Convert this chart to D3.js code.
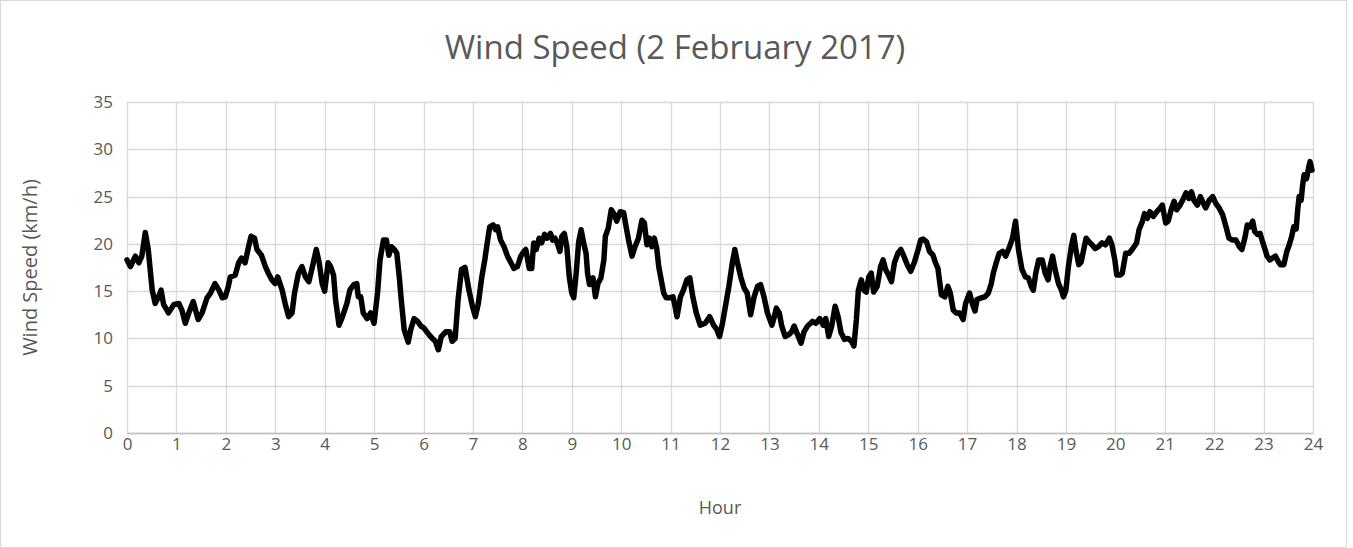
<!DOCTYPE html>
<html lang="en">
<head>
	<meta charset="UTF-8">
	<title>Wind Speed (2 February 2017)</title>
	<script src="https://d3js.org/d3.v7.min.js"></script>
	<style>
		body { margin: 0; background: #fff; }
		text { font-family: "Open Sans", "Noto Sans", sans-serif; fill: #595959; }
	</style>
</head>
<body>
<script type="text/javascript">
	// hour of day
	var hours = [
		0, 0.07, 0.17, 0.24, 0.30, 0.37, 0.43, 0.51, 0.57, 0.64, 0.69, 0.74, 0.84, 0.95,
		1.05, 1.11, 1.18, 1.25, 1.34, 1.44, 1.52, 1.62, 1.69, 1.78, 1.86, 1.93, 1.99,
		2.05, 2.09, 2.19, 2.26, 2.32, 2.39, 2.46, 2.51, 2.58, 2.63, 2.72, 2.80, 2.86, 2.93,
		3.00, 3.05, 3.14, 3.20, 3.27, 3.34, 3.39, 3.47, 3.54, 3.61, 3.68, 3.74, 3.83, 3.89, 3.95,
		4.00, 4.07, 4.12, 4.18, 4.22, 4.29, 4.36, 4.45, 4.51, 4.59, 4.65, 4.68, 4.73, 4.78, 4.86, 4.93,
		5.00, 5.07, 5.12, 5.19, 5.25, 5.30, 5.35, 5.41, 5.46, 5.51, 5.55, 5.61, 5.69, 5.74, 5.81, 5.88, 5.95,
		6.01, 6.11, 6.18, 6.24, 6.30, 6.36, 6.45, 6.53, 6.58, 6.64, 6.70, 6.77, 6.84, 6.92, 6.99,
		7.05, 7.11, 7.18, 7.24, 7.29, 7.34, 7.41, 7.46, 7.50, 7.56, 7.63, 7.70, 7.76, 7.83, 7.90, 7.97,
		8.03, 8.07, 8.14, 8.19, 8.23, 8.28, 8.34, 8.39, 8.45, 8.50, 8.57, 8.61, 8.66, 8.72, 8.76, 8.80, 8.85, 8.90, 8.95,
		9.00, 9.04, 9.09, 9.14, 9.19, 9.24, 9.29, 9.32, 9.36, 9.43, 9.48, 9.53, 9.59, 9.65, 9.68, 9.74, 9.80, 9.86, 9.91, 9.98,
		10.05, 10.10, 10.15, 10.22, 10.28, 10.35, 10.42, 10.47, 10.52, 10.57, 10.62, 10.67, 10.72, 10.76, 10.80, 10.86, 10.91, 10.98,
		11.05, 11.09, 11.13, 11.20, 11.26, 11.33, 11.39, 11.45, 11.52, 11.60, 11.70, 11.79, 11.87, 11.94, 11.99,
		12.05, 12.11, 12.18, 12.25, 12.30, 12.35, 12.42, 12.49, 12.55, 12.62, 12.69, 12.76, 12.82, 12.89, 12.96,
		13.05, 13.09, 13.14, 13.20, 13.25, 13.32, 13.39, 13.45, 13.50, 13.57, 13.64, 13.70, 13.77, 13.87, 13.94,
		14.02, 14.09, 14.14, 14.20, 14.26, 14.33, 14.39, 14.45, 14.52, 14.59, 14.66, 14.71, 14.76, 14.80, 14.86, 14.91, 14.96,
		15.01, 15.06, 15.11, 15.18, 15.25, 15.30, 15.35, 15.41, 15.47, 15.53, 15.60, 15.66, 15.72, 15.79, 15.86, 15.93,
		16.01, 16.06, 16.11, 16.18, 16.24, 16.31, 16.36, 16.41, 16.45, 16.48, 16.55, 16.61, 16.66, 16.72, 16.78, 16.85, 16.92, 16.97,
		17.05, 17.11, 17.16, 17.20, 17.29, 17.36, 17.43, 17.49, 17.53, 17.59, 17.65, 17.72, 17.78, 17.86, 17.92, 17.98,
		18.04, 18.11, 18.18, 18.24, 18.30, 18.34, 18.39, 18.45, 18.52, 18.58, 18.64, 18.68, 18.73, 18.78, 18.85, 18.91, 18.95,
		19.00, 19.05, 19.11, 19.16, 19.20, 19.26, 19.31, 19.36, 19.41, 19.47, 19.53, 19.59, 19.66, 19.73, 19.80, 19.88, 19.93, 19.99,
		20.03, 20.10, 20.14, 20.21, 20.28, 20.34, 20.43, 20.48, 20.55, 20.59, 20.65, 20.70, 20.77, 20.84, 20.91, 20.95,
		21.02, 21.07, 21.14, 21.19, 21.24, 21.31, 21.38, 21.43, 21.49, 21.54, 21.59, 21.66, 21.72, 21.78, 21.83, 21.90, 21.97,
		22.03, 22.10, 22.17, 22.24, 22.30, 22.37, 22.44, 22.51, 22.56, 22.62, 22.67, 22.72, 22.78, 22.82, 22.88, 22.93, 22.98,
		23.03, 23.07, 23.13, 23.18, 23.24, 23.30, 23.34, 23.41, 23.47, 23.52, 23.57, 23.61, 23.66, 23.69, 23.72, 23.76, 23.79,
		23.82, 23.87, 23.91, 23.94, 23.98
	];

	// wind speed in km/h, one per hour entry above
	var speeds = [
		18.3, 17.6, 18.7, 18.0, 18.7, 21.2, 19.4, 15.1, 13.7, 14.4, 15.1, 13.6, 12.7, 13.6,
		13.7, 13.0, 11.6, 12.7, 13.9, 12.0, 12.7, 14.3, 14.8, 15.8, 15.1, 14.3, 14.4,
		15.5, 16.5, 16.7, 18.0, 18.5, 18.0, 19.7, 20.8, 20.6, 19.4, 18.8, 17.6, 16.9, 16.2,
		15.8, 16.5, 15.1, 13.7, 12.3, 12.7, 14.8, 16.9, 17.6, 16.5, 16.0, 17.3, 19.4, 18.0, 15.8,
		15.0, 18.0, 17.6, 16.7, 14.1, 11.4, 12.3, 13.7, 15.1, 15.7, 15.8, 14.4, 14.4, 12.7, 12.1, 12.7,
		11.6, 14.8, 18.3, 20.4, 20.4, 18.8, 19.7, 19.4, 19.0, 16.5, 14.1, 10.9, 9.6, 10.9, 12.1, 11.8, 11.3,
		11.1, 10.4, 10.0, 9.7, 8.8, 10.2, 10.7, 10.7, 9.7, 10.0, 14.1, 17.3, 17.5, 15.1, 13.4,
		12.3, 13.7, 16.5, 18.3, 20.1, 21.8, 22.0, 21.5, 21.8, 20.4, 19.7, 18.7, 18.1, 17.4, 17.6, 18.7,
		19.2, 19.4, 17.4, 17.4, 20.1, 19.4, 20.6, 20.1, 21.0, 20.6, 21.1, 20.4, 20.6, 19.9, 19.2, 20.8, 21.1, 19.7, 16.5,
		14.8, 14.3, 16.9, 20.2, 21.5, 20.1, 19.0, 16.9, 15.7, 16.4, 14.4, 15.8, 16.4, 18.3, 20.8, 21.7, 23.6, 23.1, 22.4, 23.4,
		23.3, 21.8, 20.4, 18.7, 19.7, 20.6, 22.5, 22.2, 19.9, 20.6, 19.7, 20.6, 19.5, 17.6, 16.5, 14.8, 14.3, 14.3,
		14.4, 13.4, 12.3, 14.4, 15.1, 16.2, 16.4, 14.4, 12.7, 11.4, 11.6, 12.3, 11.4, 10.9, 10.2,
		11.6, 13.4, 15.5, 18.0, 19.4, 18.1, 16.5, 15.3, 14.8, 12.5, 14.4, 15.5, 15.7, 14.4, 12.7,
		11.4, 12.1, 13.2, 12.7, 11.3, 10.2, 10.4, 10.7, 11.3, 10.4, 9.5, 10.7, 11.3, 11.8, 11.6,
		12.1, 11.4, 12.1, 10.2, 11.3, 13.4, 12.3, 10.6, 9.9, 10.0, 9.7, 9.2, 12.0, 15.1, 16.2, 15.1, 14.9,
		16.5, 16.9, 14.9, 15.5, 17.6, 18.3, 17.3, 16.7, 16.0, 18.0, 19.0, 19.4, 18.7, 17.8, 17.1, 18.0,
		19.4, 20.4, 20.5, 20.2, 19.2, 18.8, 18.0, 17.4, 15.8, 14.6, 14.4, 15.5, 14.8, 13.0, 12.7, 12.7, 12.0, 13.7,
		14.8, 13.6, 12.9, 14.1, 14.3, 14.4, 14.8, 15.8, 16.9, 18.0, 19.0, 19.2, 18.7, 19.7, 20.6, 22.4,
		19.4, 17.3, 16.5, 16.4, 15.5, 15.1, 16.9, 18.3, 18.3, 16.9, 16.2, 17.6, 18.7, 17.3, 15.8, 15.1, 14.4,
		15.1, 17.6, 19.7, 20.9, 19.4, 17.8, 18.1, 19.4, 20.6, 20.2, 19.9, 19.5, 19.7, 20.1, 19.9, 20.6, 19.9, 18.3,
		16.7, 16.7, 16.9, 19.0, 19.0, 19.4, 20.1, 21.5, 22.4, 23.2, 22.7, 23.4, 22.9, 23.4, 23.8, 24.1,
		22.2, 22.4, 23.8, 24.5, 23.6, 24.1, 24.8, 25.4, 24.8, 25.5, 24.6, 24.1, 25.0, 24.3, 23.8, 24.6, 25.0,
		24.3, 23.8, 23.1, 21.8, 20.6, 20.4, 20.4, 19.7, 19.4, 20.6, 22.0, 21.8, 22.4, 21.3, 21.0, 21.1, 20.2,
		19.4, 18.7, 18.3, 18.5, 18.7, 18.1, 17.8, 17.8, 19.2, 19.9, 20.8, 21.8, 21.6, 23.6, 25.0, 24.6, 26.2,
		27.3, 26.9, 28.0, 28.7, 27.8
	];

	var xTicks = d3.range(0, 25, 1);
	var yTicks = [0, 5, 10, 15, 20, 25, 30, 35];

	var W = 1353, H = 548;
	var margin = {top: 102, left: 127, bottom: 115, right: 40};
	var width = 1313 - margin.left;
	var height = 433 - margin.top;

	var data = hours.map(function (h, i) {
		return {hour: h, speed: speeds[i]};
	});

	var svg = d3.select('body')
		.append('svg')
		.attr('width', W)
		.attr('height', H);

	// outer chart border
	svg.append('rect')
		.attr('x', 0.5)
		.attr('y', 0.5)
		.attr('width', 1346)
		.attr('height', 547)
		.attr('fill', '#fff')
		.attr('stroke', '#d9d9d9');

	svg.append('text')
		.attr('x', 675)
		.attr('y', 59)
		.attr('text-anchor', 'middle')
		.style('font-size', '33px')
		.text('Wind Speed (2 February 2017)');

	var g = svg.append('g')
		.attr('transform', 'translate(' + margin.left + ',' + margin.top + ')');

	var x = d3.scaleLinear().domain([0, 24]).range([0, width]);
	var y = d3.scaleLinear().domain([0, 35]).range([height, 0]);

	// gridlines
	g.append('g')
		.selectAll('line.h')
		.data(yTicks)
		.enter().append('line')
		.attr('x1', 0).attr('x2', width)
		.attr('y1', function (d) { return Math.round(y(d)) + 0.5; })
		.attr('y2', function (d) { return Math.round(y(d)) + 0.5; })
		.attr('stroke', '#d9d9d9')
		.attr('stroke-width', 1.3);

	g.append('g')
		.selectAll('line.v')
		.data(xTicks)
		.enter().append('line')
		.attr('y1', 0).attr('y2', height)
		.attr('x1', function (d) { return Math.round(x(d)) + 0.5; })
		.attr('x2', function (d) { return Math.round(x(d)) + 0.5; })
		.attr('stroke', '#d9d9d9')
		.attr('stroke-width', 1.3);

	// axes
	var xAxis = g.append('g')
		.attr('transform', 'translate(0,' + height + ')')
		.call(d3.axisBottom(x).tickValues(xTicks).tickSize(0).tickPadding(5).tickFormat(d3.format('d')));
	xAxis.select('.domain').attr('stroke', '#bfbfbf').attr('stroke-width', 1.3);

	var yAxis = g.append('g')
		.call(d3.axisLeft(y).tickValues(yTicks).tickSize(0).tickPadding(14));
	yAxis.select('.domain').remove();

	g.selectAll('.tick text')
		.style('font-size', '17px')
		.attr('fill', '#595959')
		.style('font-family', '"Open Sans", "Noto Sans", sans-serif');

	// axis titles
	svg.append('text')
		.attr('x', margin.left + width / 2)
		.attr('y', 514)
		.attr('text-anchor', 'middle')
		.style('font-size', '18px')
		.text('Hour');

	svg.append('text')
		.attr('transform', 'translate(37,' + (margin.top + height / 2) + ') rotate(-90)')
		.attr('text-anchor', 'middle')
		.style('font-size', '20px')
		.text('Wind Speed (km/h)');

	var line = d3.line()
		.x(function (d) { return x(d.hour); })
		.y(function (d) { return y(d.speed); });

	g.append('path')
		.datum(data)
		.attr('fill', 'none')
		.attr('stroke', '#000')
		.attr('stroke-width', 5.5)
		.attr('stroke-linejoin', 'round')
		.attr('stroke-linecap', 'round')
		.attr('d', line);
</script>
</body>
</html>
